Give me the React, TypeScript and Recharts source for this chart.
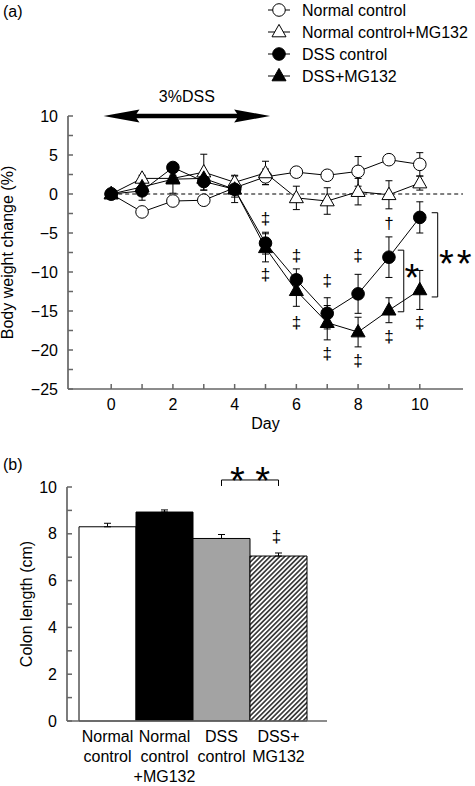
import React from "react";
import {
  ComposedChart,
  Line,
  XAxis,
  YAxis,
  ErrorBar,
  ReferenceLine,
  ReferenceDot,
  Scatter,
  Legend,
  Label,
  BarChart,
  Bar,
  Cell,
} from "recharts";

const FONT = "'Liberation Sans', Arial, Helvetica, sans-serif";
const AXIS = "#666";

// ---- (a) body weight change ----
const days = [0, 1, 2, 3, 4, 5, 6, 7, 8, 9, 10];
const normalCtrl = [0, -2.3, -0.9, -0.8, 0.8, 2.2, 2.8, 2.4, 2.9, 4.4, 3.8];
const normalCtrlErr = [0, 0.5, 0.5, 0.5, 0.6, 1.0, 0.5, 0.5, 1.9, 0.3, 1.5];
const normalMG = [0, 2.0, 2.0, 2.8, 1.5, 2.7, -0.5, -0.9, 0.3, -0.1, 1.4];
const normalMGErr = [0, 0.4, 0.4, 2.3, 0.9, 1.5, 1.5, 1.7, 1.7, 1.8, 0.9];
const dssCtrl = [0, 0.4, 3.4, 1.6, 0.6, -6.3, -11.0, -15.3, -12.8, -8.1, -3.0];
const dssCtrlErr = [0, 1.2, 0.5, 1.1, 1.0, 1.4, 1.4, 2.0, 2.5, 2.6, 2.0];
const dssMG = [0, 0.9, 1.9, 2.0, 0.6, -6.9, -12.4, -16.5, -17.7, -14.9, -12.3];
const dssMGErr = [0, 0.5, 1.8, 0.8, 1.7, 1.8, 2.0, 2.2, 1.9, 1.6, 2.5];

const weightTicks = [-25, -22.5, -20, -17.5, -15, -12.5, -10, -7.5, -5, -2.5, 0, 2.5, 5, 7.5, 10];
const dayTicks = [0, 1, 2, 3, 4, 5, 6, 7, 8, 9, 10];

// significance marks: ‡/† vs normal control, * between DSS groups
const weightMarks = [
  { day: 5, y: -3.2, t: "‡" },
  { day: 5, y: -10.4, t: "‡" },
  { day: 6, y: -8.0, t: "‡" },
  { day: 6, y: -16.5, t: "‡" },
  { day: 7, y: -11.2, t: "‡" },
  { day: 7, y: -20.5, t: "‡" },
  { day: 8, y: -7.9, t: "‡" },
  { day: 8, y: -21.4, t: "‡" },
  { day: 9, y: -3.8, t: "†" },
  { day: 9, y: -18.3, t: "‡" },
  { day: 10, y: -16.5, t: "‡" },
  { day: 9.74, y: -9.7, t: "*" },
  { day: 11.2, y: -7.8, t: "**" },
];
const weightBrackets = [
  { day: 9.48, top: -7.2, bottom: -15.1 },
  { day: 10.58, top: -2.4, bottom: -13.2 },
];
const dssPeriod = { from: -0.25, to: 5.15, y: 10, label: "3%DSS" };

const series = [
  { key: "normal", name: "Normal control", values: normalCtrl, err: normalCtrlErr, marker: "openCircle" },
  { key: "normalMG", name: "Normal control+MG132", values: normalMG, err: normalMGErr, marker: "openTriangle" },
  { key: "dss", name: "DSS control", values: dssCtrl, err: dssCtrlErr, marker: "filledCircle" },
  { key: "dssMG", name: "DSS+MG132", values: dssMG, err: dssMGErr, marker: "filledTriangle" },
];
const drawOrder = ["normal", "normalMG", "dssMG", "dss"];

const weightRows = days.map((day, i) => {
  const row: Record<string, number> = { day };
  series.forEach((s) => {
    row[s.key] = s.values[i];
    row[s.key + "Err"] = s.err[i];
  });
  return row;
});

// ---- (b) colon length ----
const groups = ["Normal control", "Normal control+MG132", "DSS control", "DSS+MG132"];
const groupTickLines = [["Normal", "control"], ["Normal", "control", "+MG132"], ["DSS", "control"], ["DSS+", "MG132"]];
const colonLength = [8.3, 8.93, 7.8, 7.05];
const colonErr = [0.15, 0.09, 0.17, 0.13];
const barFills = ["#fff", "#000", "#a3a3a3", "url(#hatch)"];
const colonTicks = [0, 1, 2, 3, 4, 5, 6, 7, 8, 9, 10];
const colonSig = { from: "DSS control", to: "DSS+MG132", y: 10.3, label: "* *" };
const colonMark = { group: "DSS+MG132", y: 7.86, t: "‡" };

const colonRows = groups.map((name, i) => ({ name, value: colonLength[i], err: colonErr[i] }));

const fmt = (v: number) => (v < 0 ? "\u2212" + Math.abs(v) : String(v));

function Marker({ kind, cx, cy }: { kind: string; cx: number; cy: number }) {
  const fill = kind.startsWith("filled") ? "#000" : "#fff";
  if (kind.endsWith("Circle")) {
    return <circle cx={cx} cy={cy} r={6.3} fill={fill} stroke="#000" strokeWidth={1} />;
  }
  return (
    <polygon
      points={`${cx},${cy - 7.6} ${cx - 7},${cy + 4.8} ${cx + 7},${cy + 4.8}`}
      fill={fill}
      stroke="#000"
      strokeWidth={1}
    />
  );
}

function TextMark({ cx, cy, t }: { cx: number; cy: number; t: string }) {
  const star = t.includes("*");
  const fs = star ? 38 : 17;
  const lift = star ? 0.57 : 0.29;
  return (
    <text
      x={cx}
      y={cy + lift * fs}
      textAnchor="middle"
      fontSize={fs}
      fontFamily={FONT}
      letterSpacing={t === "**" ? 3 : 0}
      fill="#000"
    >
      {t}
    </text>
  );
}

function YTick({ x, y, payload, every }: any) {
  const v = payload.value;
  return (
    <g>
      <line x1={x + 10} x2={x + 15} y1={y} y2={y} stroke={AXIS} strokeWidth={1.5} />
      {v % every === 0 && (
        <text x={x} y={y + 5.5} textAnchor="end" fontSize={16} fontFamily={FONT} fill="#000">
          {fmt(v)}
        </text>
      )}
    </g>
  );
}

function DayTick({ x, y, payload }: any) {
  const v = payload.value;
  return (
    <g>
      <line x1={x} x2={x} y1={y - 9} y2={y - 14} stroke={AXIS} strokeWidth={1.5} />
      {v % 2 === 0 && (
        <text x={x} y={y + 11.5} textAnchor="middle" fontSize={16} fontFamily={FONT} fill="#000">
          {v}
        </text>
      )}
    </g>
  );
}

function GroupTick({ x, y, index }: any) {
  const lines = groupTickLines[index] || [];
  return (
    <text x={x} y={y} textAnchor="middle" fontSize={16} fontFamily={FONT} fill="#000">
      {lines.map((l, i) => (
        <tspan key={i} x={x} y={y + 21 + i * 20}>
          {l}
        </tspan>
      ))}
    </text>
  );
}

function WeightLegend() {
  return (
    <svg width={213} height={90}>
      {series.map((s, i) => {
        const cy = 10 + i * 22;
        return (
          <g key={s.key}>
            <line x1={6} x2={28} y1={cy} y2={cy} stroke="#000" strokeWidth={1} />
            <Marker kind={s.marker} cx={17} cy={cy} />
            <text x={40} y={cy + 5.5} fontSize={16} fontFamily={FONT} fill="#000">
              {s.name}
            </text>
          </g>
        );
      })}
    </svg>
  );
}

function WeightChart() {
  return (
    <ComposedChart
      width={475}
      height={440}
      data={weightRows}
      margin={{ top: 116, right: 12, bottom: 0, left: 0 }}
    >
      <XAxis
        type="number"
        dataKey="day"
        domain={[-1.4, 11.4]}
        ticks={dayTicks}
        interval={0}
        height={51}
        tickSize={0}
        tickMargin={9}
        tickLine={false}
        axisLine={{ stroke: AXIS, strokeWidth: 1.7 }}
        tick={(p: any) => <DayTick {...p} />}
      >
        <Label
          content={({ viewBox }: any) => (
            <text
              x={viewBox.x + viewBox.width / 2}
              y={viewBox.y + 40}
              textAnchor="middle"
              fontSize={16}
              fontFamily={FONT}
              fill="#000"
            >
              Day
            </text>
          )}
        />
      </XAxis>
      <YAxis
        type="number"
        domain={[-25, 10]}
        ticks={weightTicks}
        interval={0}
        width={68}
        tickSize={0}
        tickMargin={10}
        tickLine={false}
        axisLine={{ stroke: AXIS, strokeWidth: 1.7 }}
        tick={(p: any) => <YTick {...p} every={5} />}
      >
        <Label
          content={({ viewBox }: any) => (
            <text
              transform={`translate(${viewBox.x + 13},${viewBox.y + viewBox.height / 2}) rotate(-90)`}
              textAnchor="middle"
              fontSize={16}
              fontFamily={FONT}
              fill="#000"
            >
              Body weight change (%)
            </text>
          )}
        />
      </YAxis>

      <ReferenceLine
        segment={[{ x: 0, y: 0 }, { x: 11.4, y: 0 }]}
        stroke="#000"
        strokeWidth={1}
        strokeDasharray="4 3"
      />
      <ReferenceLine
        segment={[{ x: dssPeriod.from, y: dssPeriod.y }, { x: dssPeriod.to, y: dssPeriod.y }]}
        ifOverflow="visible"
        shape={(p: any) => {
          const { x1, y1, x2 } = p;
          const h = 36;
          return (
            <g>
              <path
                d={`M${x1},${y1} L${x1 + h},${y1 - 6.5} L${x1 + h - 3},${y1 - 2.2} L${x2 - h + 3},${y1 - 2.2} L${x2 - h},${y1 - 6.5} L${x2},${y1} L${x2 - h},${y1 + 6.5} L${x2 - h + 3},${y1 + 2.2} L${x1 + h - 3},${y1 + 2.2} L${x1 + h},${y1 + 6.5} Z`}
                fill="#000"
              />
              <text x={(x1 + x2) / 2} y={y1 - 14} textAnchor="middle" fontSize={16} fontFamily={FONT} fill="#000">
                {dssPeriod.label}
              </text>
            </g>
          );
        }}
      />
      {weightBrackets.map((b, i) => (
        <ReferenceLine
          key={`br-${i}`}
          segment={[{ x: b.day, y: b.top }, { x: b.day, y: b.bottom }]}
          ifOverflow="visible"
          shape={(p: any) => (
            <path
              d={`M${p.x1 - 6},${p.y1} H${p.x1} V${p.y2} H${p.x1 - 6}`}
              fill="none"
              stroke="#000"
              strokeWidth={1}
            />
          )}
        />
      ))}

      {drawOrder.map((k) => {
        const s = series.find((q) => q.key === k)!;
        return (
          <Line
            key={s.key}
            dataKey={s.key}
            name={s.name}
            type="linear"
            stroke="#000"
            strokeWidth={1}
            isAnimationActive={false}
            activeDot={false}
            dot={(p: any) => <Marker key={`${s.key}-${p.index}`} kind={s.marker} cx={p.cx} cy={p.cy} />}
          >
            <ErrorBar
              dataKey={s.key + "Err"}
              direction="y"
              width={3.5}
              stroke="#000"
              strokeWidth={1}
              isAnimationActive={false}
            />
          </Line>
        );
      })}

      <Scatter
        data={weightMarks}
        dataKey="y"
        isAnimationActive={false}
        shape={(p: any) => <TextMark cx={p.cx} cy={p.cy} t={p.payload.t} />}
      />

      <Legend
        layout="vertical"
        align="center"
        verticalAlign="middle"
        wrapperStyle={{ left: 262, top: 0, width: 213, height: 90 }}
        content={() => <WeightLegend />}
      />
    </ComposedChart>
  );
}

function ColonChart() {
  return (
    <BarChart
      width={475}
      height={356}
      data={colonRows}
      margin={{ top: 57, right: 148, bottom: 0, left: 0 }}
      barCategoryGap={0}
    >
      <defs>
        <pattern id="hatch" patternUnits="userSpaceOnUse" width={3.4} height={3.4} patternTransform="rotate(45)">
          <rect width={3.4} height={3.4} fill="#fff" />
          <line x1={1.7} y1={0} x2={1.7} y2={3.4} stroke="#000" strokeWidth={1.3} />
        </pattern>
      </defs>
      <XAxis
        dataKey="name"
        height={65}
        padding={{ left: 12, right: 20 }}
        interval={0}
        tickSize={0}
        tickMargin={0}
        tickLine={false}
        axisLine={{ stroke: AXIS, strokeWidth: 1.7 }}
        tick={(p: any) => <GroupTick {...p} />}
      />
      <YAxis
        type="number"
        domain={[0, 10]}
        ticks={colonTicks}
        interval={0}
        width={67}
        tickSize={0}
        tickMargin={10}
        tickLine={false}
        axisLine={{ stroke: AXIS, strokeWidth: 1.7 }}
        tick={(p: any) => <YTick {...p} every={2} />}
      >
        <Label
          content={({ viewBox }: any) => (
            <text
              transform={`translate(${viewBox.x + 32},${viewBox.y + viewBox.height / 2}) rotate(-90)`}
              textAnchor="middle"
              fontSize={16}
              fontFamily={FONT}
              fill="#000"
            >
              Colon length (cm)
            </text>
          )}
        />
      </YAxis>
      <Bar dataKey="value" stroke="#000" strokeWidth={1} isAnimationActive={false}>
        {colonRows.map((r, i) => (
          <Cell key={r.name} fill={barFills[i]} />
        ))}
        <ErrorBar
          dataKey={(d: any) => [0, d.err]}
          direction="y"
          width={3.5}
          stroke="#000"
          strokeWidth={1}
          isAnimationActive={false}
        />
      </Bar>
      <ReferenceLine
        segment={[{ x: colonSig.from, y: colonSig.y }, { x: colonSig.to, y: colonSig.y }]}
        ifOverflow="visible"
        shape={(p: any) => (
          <g>
            <path
              d={`M${p.x1},${p.y1 + 6} V${p.y1} H${p.x2} V${p.y2 + 6}`}
              fill="none"
              stroke="#000"
              strokeWidth={1}
            />
            <TextMark cx={(p.x1 + p.x2) / 2} cy={p.y1 - 8} t={colonSig.label} />
          </g>
        )}
      />
      <ReferenceDot
        x={colonMark.group}
        y={colonMark.y}
        ifOverflow="visible"
        shape={(p: any) => <TextMark cx={p.cx - 2} cy={p.cy} t={colonMark.t} />}
      />
    </BarChart>
  );
}

export default function App() {
  return (
    <div
      style={{
        position: "absolute",
        left: 0,
        top: 0,
        width: 475,
        height: 786,
        background: "#fff",
        fontFamily: FONT,
      }}
    >
      <div style={{ position: "absolute", left: 0, top: 0 }}>
        <WeightChart />
      </div>
      <div style={{ position: "absolute", left: 0, top: 430 }}>
        <ColonChart />
      </div>
      <div style={{ position: "absolute", left: 3, top: 3.5, fontSize: 16, lineHeight: "16px" }}>(a)</div>
      <div style={{ position: "absolute", left: 3, top: 456.5, fontSize: 16, lineHeight: "16px" }}>(b)</div>
    </div>
  );
}
